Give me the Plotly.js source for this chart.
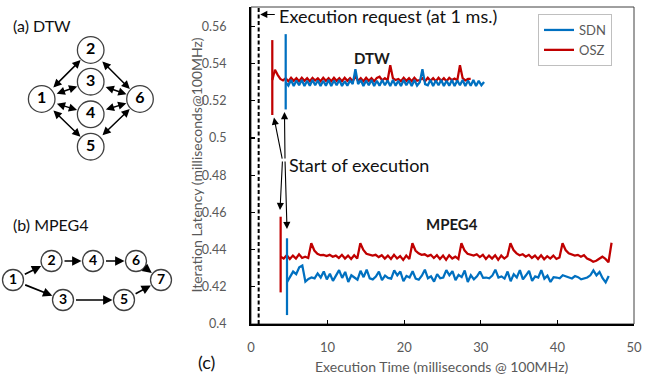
<!DOCTYPE html>
<html>
<head>
<meta charset="utf-8">
<script src="https://cdn.plot.ly/plotly-3.0.1.min.js"></script>
<style>
html,body{margin:0;padding:0;background:#fff;}
#plot{width:657px;height:376px;}
</style>
</head>
<body>
<div id="plot"></div>
<script>
// ---------------- data ----------------
const seriesNames = ["SDN", "OSZ"];
const xTickVals = [0, 10, 20, 30, 40, 50];
const yTickVals = [0.4, 0.42, 0.44, 0.46, 0.48, 0.5, 0.52, 0.54, 0.56];
const requestTime = 1; // execution request at 1 ms

// sampling (ms)
const dtwStep = 0.35;
const mpegStep = 0.4;
const dtwSdnStart = 4.53;
const dtwOszStart = 2.78;
const mpegSdnStart = 4.7;
const mpegOszStart = 3.87;

// start-up spikes [top, bottom]
const dtwSdnSpike = [0.5559, 0.5154];
const dtwOszSpike = [0.5527, 0.5124];
const mpegSdnSpike = [0.4461, 0.4048];
const mpegOszSpike = [0.4577, 0.4170];

const dtwSdn = [
 0.5300, 0.5282, 0.5312, 0.5280, 0.5310, 0.5284, 0.5312, 0.5280, 0.5308, 0.5282,
 0.5312, 0.5284, 0.5310, 0.5280, 0.5308, 0.5282, 0.5312, 0.5280, 0.5310, 0.5284,
 0.5312, 0.5280, 0.5306, 0.5282, 0.5310, 0.5290, 0.5370, 0.5290, 0.5312, 0.5280,
 0.5310, 0.5284, 0.5312, 0.5280, 0.5308, 0.5282, 0.5312, 0.5284, 0.5310, 0.5280,
 0.5312, 0.5282, 0.5308, 0.5280, 0.5312, 0.5284, 0.5310, 0.5280, 0.5312, 0.5282,
 0.5300, 0.5370, 0.5290, 0.5284, 0.5312, 0.5280, 0.5310, 0.5284, 0.5312, 0.5280,
 0.5308, 0.5282, 0.5312, 0.5280, 0.5310, 0.5284, 0.5312, 0.5280, 0.5310, 0.5282,
 0.5312, 0.5280, 0.5308, 0.5284, 0.5302];

const dtwOsz = [
 0.5312, 0.5368, 0.5340, 0.5318, 0.5310, 0.5322, 0.5306, 0.5324, 0.5308, 0.5322,
 0.5306, 0.5324, 0.5308, 0.5322, 0.5306, 0.5324, 0.5310, 0.5322, 0.5306, 0.5324,
 0.5308, 0.5322, 0.5306, 0.5324, 0.5308, 0.5322, 0.5306, 0.5324, 0.5308, 0.5322,
 0.5306, 0.5330, 0.5308, 0.5322, 0.5306, 0.5324, 0.5308, 0.5322, 0.5306, 0.5324,
 0.5330, 0.5310, 0.5322, 0.5310, 0.5392, 0.5322, 0.5312, 0.5318, 0.5306, 0.5324,
 0.5308, 0.5322, 0.5306, 0.5324, 0.5308, 0.5312, 0.5322, 0.5306, 0.5324, 0.5308,
 0.5322, 0.5306, 0.5324, 0.5308, 0.5322, 0.5306, 0.5324, 0.5312, 0.5320, 0.5310,
 0.5392, 0.5322, 0.5310, 0.5318, 0.5318];

const mpegSdn = [
 0.4225, 0.4258, 0.4282, 0.4268, 0.4305, 0.4315, 0.4228, 0.4242, 0.4250, 0.4245,
 0.4272, 0.4250, 0.4283, 0.4240, 0.4270, 0.4232, 0.4258, 0.4290, 0.4248, 0.4280,
 0.4226, 0.4262, 0.4250, 0.4238, 0.4286, 0.4252, 0.4292, 0.4246, 0.4240, 0.4255,
 0.4282, 0.4236, 0.4260, 0.4248, 0.4244, 0.4288, 0.4262, 0.4282, 0.4230, 0.4258,
 0.4250, 0.4284, 0.4244, 0.4238, 0.4260, 0.4292, 0.4246, 0.4256, 0.4228, 0.4268,
 0.4246, 0.4250, 0.4290, 0.4262, 0.4284, 0.4236, 0.4264, 0.4252, 0.4288, 0.4226,
 0.4262, 0.4240, 0.4256, 0.4282, 0.4248, 0.4250, 0.4246, 0.4260, 0.4292, 0.4250,
 0.4256, 0.4244, 0.4282, 0.4230, 0.4268, 0.4250, 0.4290, 0.4240, 0.4262, 0.4286,
 0.4232, 0.4256, 0.4250, 0.4290, 0.4244, 0.4260, 0.4226, 0.4252, 0.4250, 0.4246,
 0.4262, 0.4256, 0.4250, 0.4245, 0.4258, 0.4252, 0.4240, 0.4246, 0.4250, 0.4262,
 0.4288, 0.4262, 0.4280, 0.4246, 0.4224, 0.4258];

const mpegOsz = [
 0.4362, 0.4352, 0.4370, 0.4350, 0.4368, 0.4352, 0.4375, 0.4355, 0.4362, 0.4355,
 0.4434, 0.4395, 0.4378, 0.4370, 0.4372, 0.4365, 0.4372, 0.4362, 0.4368, 0.4355,
 0.4372, 0.4352, 0.4368, 0.4350, 0.4370, 0.4352, 0.4434, 0.4398, 0.4378, 0.4372,
 0.4368, 0.4372, 0.4360, 0.4370, 0.4352, 0.4368, 0.4350, 0.4372, 0.4352, 0.4365,
 0.4345, 0.4368, 0.4350, 0.4434, 0.4395, 0.4380, 0.4372, 0.4375, 0.4365, 0.4372,
 0.4355, 0.4370, 0.4350, 0.4368, 0.4345, 0.4370, 0.4352, 0.4362, 0.4350, 0.4434,
 0.4396, 0.4378, 0.4372, 0.4368, 0.4375, 0.4360, 0.4372, 0.4350, 0.4368, 0.4352,
 0.4370, 0.4345, 0.4368, 0.4352, 0.4365, 0.4434, 0.4398, 0.4380, 0.4370, 0.4375,
 0.4362, 0.4372, 0.4355, 0.4368, 0.4350, 0.4370, 0.4348, 0.4365, 0.4352, 0.4368,
 0.4350, 0.4358, 0.4434, 0.4398, 0.4380, 0.4372, 0.4368, 0.4372, 0.4362, 0.4370,
 0.4352, 0.4345, 0.4335, 0.4340, 0.4352, 0.4362, 0.4350, 0.4332, 0.4437];

// task graphs
const dtwNodes = ["1", "2", "3", "4", "5", "6"];
const dtwEdges = [["1","2"],["1","3"],["1","4"],["1","5"],["2","6"],["3","6"],["4","6"],["5","6"]];
const mpegNodes = ["1", "2", "3", "4", "5", "6", "7"];
const mpegEdges = [["1","2"],["1","3"],["2","4"],["4","6"],["6","7"],["3","5"],["5","7"]];

// ---------------- layout helpers (diagram positions, pixels) ----------------
const dtwPos = {"1":[41.7,99],"2":[90.7,50],"3":[90.7,81.7],"4":[90.7,114.3],"5":[90.7,146.7],"6":[140,99]};
const mpegPos = {"1":[13,280],"2":[51.5,261],"3":[63,300],"4":[93,261],"5":[124,300],"6":[136,261],"7":[161,280]};
const dtwR = 13.3, mpegR = 10.5;

const BLUE = "#0070C0", RED = "#C00000";
const FONT = "Lato, 'Open Sans', sans-serif";

const traces = [];
traces.push({type:"scatter", mode:"lines", name:seriesNames[1], legendgroup:"osz", legendrank:2,
  x0:dtwOszStart, dx:dtwStep, y:dtwOsz, line:{color:RED, width:2.25}});
traces.push({type:"scatter", mode:"lines", name:seriesNames[1], legendgroup:"osz", showlegend:false,
  x0:mpegOszStart, dx:mpegStep, y:mpegOsz, line:{color:RED, width:2.25}});
traces.push({type:"scatter", mode:"lines", name:seriesNames[1], legendgroup:"osz", showlegend:false,
  x:[dtwOszStart, dtwOszStart], y:dtwOszSpike, line:{color:RED, width:2.25}});
traces.push({type:"scatter", mode:"lines", name:seriesNames[1], legendgroup:"osz", showlegend:false,
  x:[mpegOszStart, mpegOszStart], y:mpegOszSpike, line:{color:RED, width:2.25}});
traces.push({type:"scatter", mode:"lines", name:seriesNames[0], legendgroup:"sdn", legendrank:1,
  x0:dtwSdnStart, dx:dtwStep, y:dtwSdn, line:{color:BLUE, width:2.25}});
traces.push({type:"scatter", mode:"lines", name:seriesNames[0], legendgroup:"sdn", showlegend:false,
  x0:mpegSdnStart, dx:mpegStep, y:mpegSdn, line:{color:BLUE, width:2.25}});
traces.push({type:"scatter", mode:"lines", name:seriesNames[0], legendgroup:"sdn", showlegend:false,
  x:[dtwSdnStart, dtwSdnStart], y:dtwSdnSpike, line:{color:BLUE, width:2.25}});
traces.push({type:"scatter", mode:"lines", name:seriesNames[0], legendgroup:"sdn", showlegend:false,
  x:[mpegSdnStart, mpegSdnStart], y:mpegSdnSpike, line:{color:BLUE, width:2.25}});

// diagram node traces
traces.push({type:"scatter", mode:"markers+text", xaxis:"x2", yaxis:"y2", showlegend:false, hoverinfo:"skip",
  x:dtwNodes.map(n=>dtwPos[n][0]), y:dtwNodes.map(n=>dtwPos[n][1]), text:dtwNodes.map(n=>"<b>"+n+"</b>"),
  textposition:"middle center", textfont:{family:FONT, size:16, color:"#000"},
  marker:{size:dtwR*2, color:"#fff", line:{color:"#404040", width:1.3}}});
traces.push({type:"scatter", mode:"markers+text", xaxis:"x2", yaxis:"y2", showlegend:false, hoverinfo:"skip",
  x:mpegNodes.map(n=>mpegPos[n][0]), y:mpegNodes.map(n=>mpegPos[n][1]), text:mpegNodes.map(n=>"<b>"+n+"</b>"),
  textposition:"middle center", textfont:{family:FONT, size:14, color:"#000"},
  marker:{size:mpegR*2, color:"#fff", line:{color:"#404040", width:1.3}}});

const annotations = [];
// graph edges
dtwEdges.forEach(([a,b])=>{
  annotations.push({xref:"x2", yref:"y2", axref:"x2", ayref:"y2",
    x:dtwPos[b][0], y:dtwPos[b][1], ax:dtwPos[a][0], ay:dtwPos[a][1], text:"",
    showarrow:true, arrowside:"end+start", arrowhead:2, startarrowhead:2, arrowsize:1.1, startarrowsize:1.1,
    arrowwidth:1.5, arrowcolor:"#000", standoff:dtwR+1, startstandoff:dtwR+1});
});
mpegEdges.forEach(([a,b])=>{
  annotations.push({xref:"x2", yref:"y2", axref:"x2", ayref:"y2",
    x:mpegPos[b][0], y:mpegPos[b][1], ax:mpegPos[a][0], ay:mpegPos[a][1], text:"",
    showarrow:true, arrowside:"end", arrowhead:2, arrowsize:1.1,
    arrowwidth:1.7, arrowcolor:"#000", standoff:mpegR+1, startstandoff:mpegR+1});
});
annotations.push({xref:"x2", yref:"y2", x:11, y:25, xanchor:"left", yanchor:"middle", showarrow:false,
  text:"(a) DTW", font:{family:FONT, size:16, color:"#111"}});
annotations.push({xref:"x2", yref:"y2", x:11, y:224, xanchor:"left", yanchor:"middle", showarrow:false,
  text:"(b) MPEG4", font:{family:FONT, size:16, color:"#111"}});

// chart annotations
annotations.push({xref:"x", yref:"y", x:3.35, y:0.5655, xanchor:"left", yanchor:"middle", showarrow:false,
  text:"Execution request (at 1 ms.)", font:{family:FONT, size:18, color:"#111"}});
annotations.push({xref:"x", yref:"y", axref:"x", ayref:"y", x:1.2, y:0.5665, ax:3.3, ay:0.5665, text:"",
  showarrow:true, arrowhead:2, arrowsize:1.3, arrowwidth:1.1, arrowcolor:"#000"});
annotations.push({xref:"x", yref:"y", x:4.75, y:0.4855, xanchor:"left", yanchor:"middle", showarrow:false,
  text:"Start of execution", font:{family:FONT, size:18, color:"#111"}});
const startTailA = [4.11, 0.4882], startTailB = [4.44, 0.4882];
[[3.0,0.5110,startTailA],[4.37,0.5140,startTailB],[3.79,0.4613,startTailA],[4.70,0.4511,startTailB]].forEach(([hx,hy,t])=>{
  annotations.push({xref:"x", yref:"y", axref:"x", ayref:"y", x:hx, y:hy, ax:t[0], ay:t[1], text:"",
    showarrow:true, arrowhead:2, arrowsize:1.3, arrowwidth:1.1, arrowcolor:"#000"});
});
annotations.push({xref:"x", yref:"y", x:15.86, y:0.5429, xanchor:"center", yanchor:"middle", showarrow:false,
  text:"<b>DTW</b>", font:{family:FONT, size:15, color:"#1a1a1a"}});
annotations.push({xref:"x", yref:"y", x:26.2, y:0.4538, xanchor:"center", yanchor:"middle", showarrow:false,
  text:"<b>MPEG4</b>", font:{family:FONT, size:15, color:"#1a1a1a"}});
// axis titles & panel label
annotations.push({xref:"paper", yref:"paper", x:441.5/657, y:1-366.7/376, xanchor:"center", yanchor:"middle",
  showarrow:false, text:"Execution Time (milliseconds @ 100MHz)", font:{family:FONT, size:14, color:"#595959"}});
annotations.push({xref:"paper", yref:"paper", x:196/657, y:1-165.5/376, xanchor:"center", yanchor:"middle",
  showarrow:false, textangle:-90,
  text:"Iteration Latency (milliseconds@100MHz)", font:{family:FONT, size:14, color:"#595959"}});
annotations.push({xref:"paper", yref:"paper", x:206/657, y:1-361.7/376, xanchor:"center", yanchor:"middle",
  showarrow:false, text:"(c)", font:{family:FONT, size:18, color:"#111"}});

const layout = {
  width:657, height:376,
  margin:{l:0, r:0, t:0, b:0, pad:0},
  paper_bgcolor:"#fff", plot_bgcolor:"#fff",
  font:{family:FONT, color:"#595959"},
  showlegend:true,
  legend:{x:538/657, y:1-14/376, xanchor:"left", yanchor:"top", bgcolor:"#fff",
    bordercolor:"#bfbfbf", borderwidth:1, font:{family:FONT, size:13, color:"#595959"},
    traceorder:"normal", itemwidth:30, tracegroupgap:0},
  xaxis:{domain:[251/657, 634/657], range:[0,50], tickvals:xTickVals, ticks:"inside", ticklen:4,
    tickwidth:1.2, tickcolor:"#000", showline:true, linecolor:"#000", linewidth:2, showgrid:false,
    zeroline:false, tickfont:{family:FONT, size:13, color:"#595959"}, automargin:false, anchor:"y",
    ticklabelstandoff:10, fixedrange:true},
  yaxis:{domain:[52/376, 369/376], range:[0.4, 0.5705], tickvals:yTickVals, ticks:"inside", ticklen:4,
    tickwidth:1.2, tickcolor:"#000", showline:true, linecolor:"#000", linewidth:2, showgrid:false,
    zeroline:false, tickfont:{family:FONT, size:12.5, color:"#595959"}, automargin:false, anchor:"x",
    ticklabelstandoff:20, fixedrange:true},
  xaxis2:{domain:[0, 217/657], range:[0,217], visible:false, fixedrange:true, anchor:"y2"},
  yaxis2:{domain:[0,1], range:[376,0], visible:false, fixedrange:true, anchor:"x2"},
  shapes:[
    {type:"rect", xref:"x domain", yref:"y domain", x0:0, x1:1, y0:0, y1:1, layer:"below",
     line:{color:"#404040", width:1}},
    {type:"line", xref:"x", yref:"y domain", x0:requestTime, x1:requestTime, y0:0, y1:1,
     line:{color:"#000", width:2, dash:"4px,2.5px"}}
  ],
  annotations:annotations
};

Plotly.newPlot("plot", traces, layout, {displayModeBar:false, staticPlot:true});
</script>
</body>
</html>
